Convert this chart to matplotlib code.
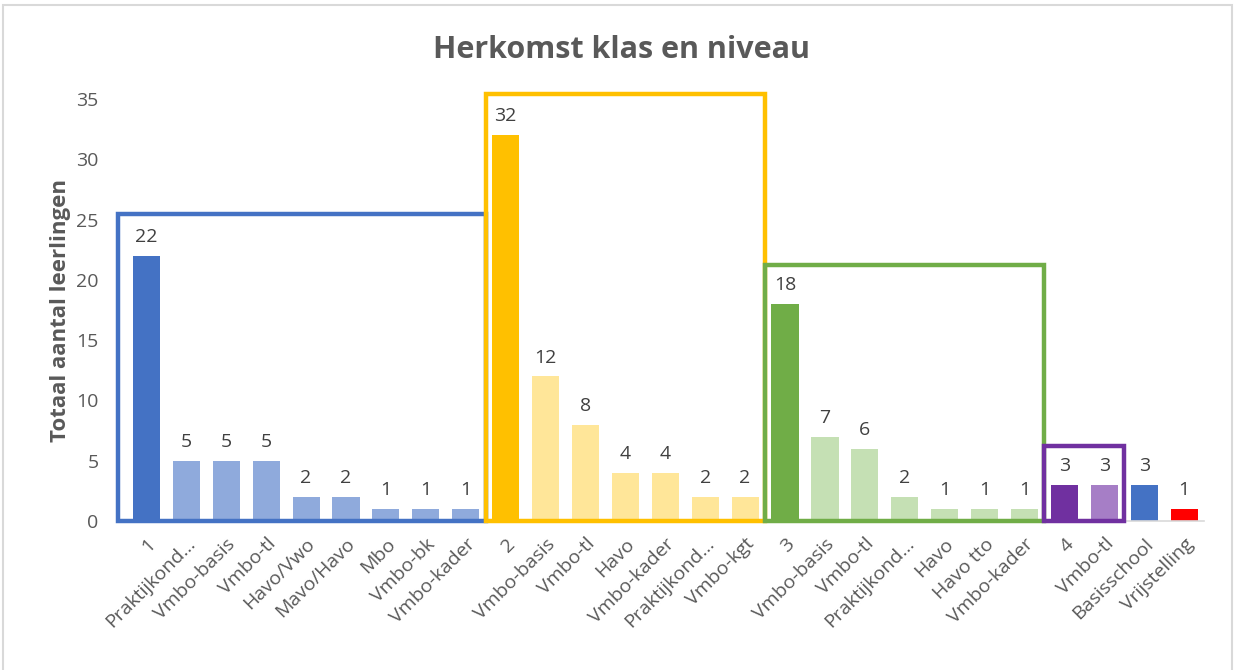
import matplotlib
matplotlib.use("Agg")
import matplotlib.pyplot as plt
from matplotlib.patches import Rectangle

plt.rcParams["font.family"] = ["Open Sans", "DejaVu Sans"]

# ===== data =====
labels = ["1", "Praktijkond…", "Vmbo-basis", "Vmbo-tl", "Havo/Vwo", "Mavo/Havo", "Mbo", "Vmbo-bk", "Vmbo-kader",
          "2", "Vmbo-basis", "Vmbo-tl", "Havo", "Vmbo-kader", "Praktijkond…", "Vmbo-kgt",
          "3", "Vmbo-basis", "Vmbo-tl", "Praktijkond…", "Havo", "Havo tto", "Vmbo-kader",
          "4", "Vmbo-tl",
          "Basisschool", "Vrijstelling"]
values = [22, 5, 5, 5, 2, 2, 1, 1, 1,
          32, 12, 8, 4, 4, 2, 2,
          18, 7, 6, 2, 1, 1, 1,
          3, 3,
          3, 1]
colors = (["#4472C4"] + ["#8FAADC"] * 8 +
          ["#FFC000"] + ["#FFE699"] * 6 +
          ["#70AD47"] + ["#C5E0B4"] * 6 +
          ["#7030A0", "#A67EC6"] +
          ["#4472C4", "#FF0000"])

# group frames: (first index, last index, top value, colour)
groups = [(0, 8, 25.5, "#4472C4"),
          (9, 15, 35.4, "#FFC000"),
          (16, 22, 21.2, "#70AD47"),
          (23, 24, 6.2, "#7030A0")]

TXT = "#595959"

fig = plt.figure(figsize=(12.35, 6.70), dpi=100)
ax = fig.add_axes([0.1024, 0.2224, 0.8726, 0.6298])

x = list(range(len(values)))
bars = ax.bar(x, values, width=0.68, color=colors)
for xi, v in zip(x, values):
    ax.annotate(str(v), (xi, v), xytext=(0, 7), textcoords="offset points",
                ha="center", va="bottom", fontsize=14, color="#404040")

for i0, i1, top, c in groups:
    left = i0 - 0.5 if i0 > 0 else -0.71
    r = Rectangle((left, 0), (i1 + 0.5) - left, top, fill=False, edgecolor=c,
                  linewidth=3.2, clip_on=False, zorder=5)
    ax.add_patch(r)

ax.set_xlim(-0.5, len(values) - 0.5)
ax.set_ylim(0, 35)
ax.set_yticks(range(0, 36, 5))
ax.set_xticks(x)
ax.set_xticklabels(labels, rotation=45, ha="right", rotation_mode="anchor",
                   fontsize=14, color=TXT)
ax.tick_params(axis="x", length=0, pad=10)
ax.tick_params(axis="y", length=0, pad=20, labelsize=14, labelcolor=TXT)
for s in ["top", "right", "left"]:
    ax.spines[s].set_visible(False)
ax.spines["bottom"].set_color("#D9D9D9")
ax.spines["bottom"].set_linewidth(1.2)

ax.set_ylabel("Totaal aantal leerlingen", fontsize=16, fontweight="bold", color=TXT, labelpad=4)
fig.text(0.503, 0.925, "Herkomst klas en niveau", ha="center", va="center",
         fontsize=22, fontweight="bold", color=TXT)

# chart border
fig.patches.append(Rectangle((3 / 1235, -0.01), 1229 / 1235, 1 - 5 / 670 + 0.01,
                             transform=fig.transFigure, fill=False,
                             edgecolor="#D9D9D9", linewidth=1.5))

fig.savefig("out.png", dpi=100)
